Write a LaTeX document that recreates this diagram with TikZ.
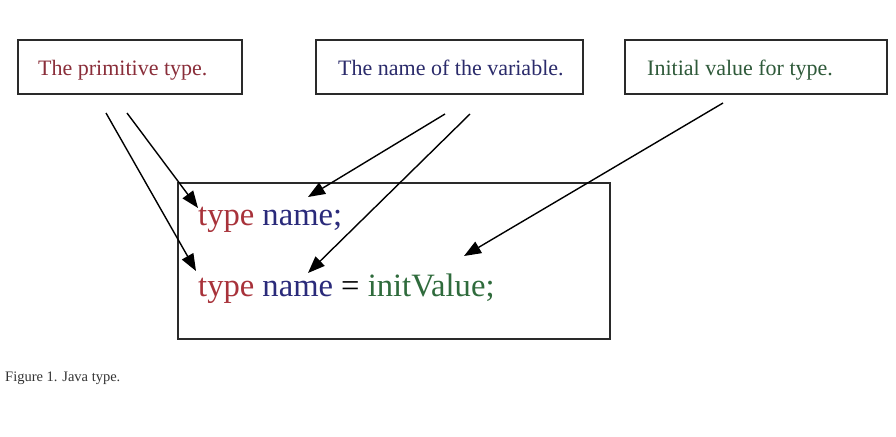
\documentclass[tikz,border=0pt]{standalone}
\usepackage{fontspec}
\setmainfont{Liberation Serif}
\usetikzlibrary{arrows.meta}
\definecolor{typered}{HTML}{A8323A}
\definecolor{nameblue}{HTML}{2A2A7A}
\definecolor{initgreen}{HTML}{2F6B3C}
\definecolor{lblred}{HTML}{8A2E3A}
\definecolor{lblblue}{HTML}{2B2B6B}
\definecolor{lblgreen}{HTML}{2F5A3A}
\definecolor{edge}{HTML}{2A2A2A}
\definecolor{captiongray}{HTML}{333333}
\tikzset{
  labelbox/.style={draw=edge, line width=1.4pt, minimum width=224pt, minimum height=54pt, inner sep=0pt},
  labeltext/.style={anchor=base west, inner sep=0pt, font=\fontsize{22}{26}\selectfont},
  codetext/.style={anchor=base west, inner sep=0pt, font=\fontsize{32.6}{38}\selectfont},
  pointer/.style={draw=black, line width=1.4pt, -{Triangle[length=17pt,width=13pt]}},
}
\begin{document}
\begin{tikzpicture}[x=1pt,y=-1pt]
\useasboundingbox[fill=white] (0,0) rectangle (896,436);
% label boxes
\node[labelbox, minimum width=224pt] (b1) at (130,67) {};
\node[labelbox, minimum width=267pt] (b2) at (449.5,67) {};
\node[labelbox, minimum width=262pt] (b3) at (756,67) {};
\node[labeltext, text=lblred] (t1) at (38,75) {The primitive type.};
\node[labeltext, text=lblblue] (t2) at (338,75) {The name of the variable.};
\node[labeltext, text=lblgreen] (t3) at (647,75) {Initial value for type.};
% code box
\node[draw=edge, line width=1.4pt, minimum width=432pt, minimum height=156pt, inner sep=0pt] (code) at (394,261) {};
\node[codetext] (l1) at (198,225) {\color{typered}type \color{nameblue}name;};
\node[codetext] (l2) at (198,296) {\color{typered}type \color{nameblue}name \color{black}= \color{initgreen}initValue;};
% arrow ends
\coordinate (sA) at (106,113);
\coordinate (sB) at (127,113);
\coordinate (sC) at (445,114);
\coordinate (sD) at (470,114);
\coordinate (sE) at (723,103);
\coordinate (eA) at (196,271);
\coordinate (eB) at (198,208);
\coordinate (eC) at (308,197);
\coordinate (eD) at (308,273);
\coordinate (eE) at (464,256);
\draw[pointer] (sA) -- (eA);
\draw[pointer] (sB) -- (eB);
\draw[pointer] (sC) -- (eC);
\draw[pointer] (sD) -- (eD);
\draw[pointer] (sE) -- (eE);
% caption
\node[anchor=base west, inner sep=0pt, text=captiongray, font=\fontsize{14.5}{17}\selectfont] (cap) at (5,381) {Figure 1. Java type.};
\end{tikzpicture}
\end{document}
